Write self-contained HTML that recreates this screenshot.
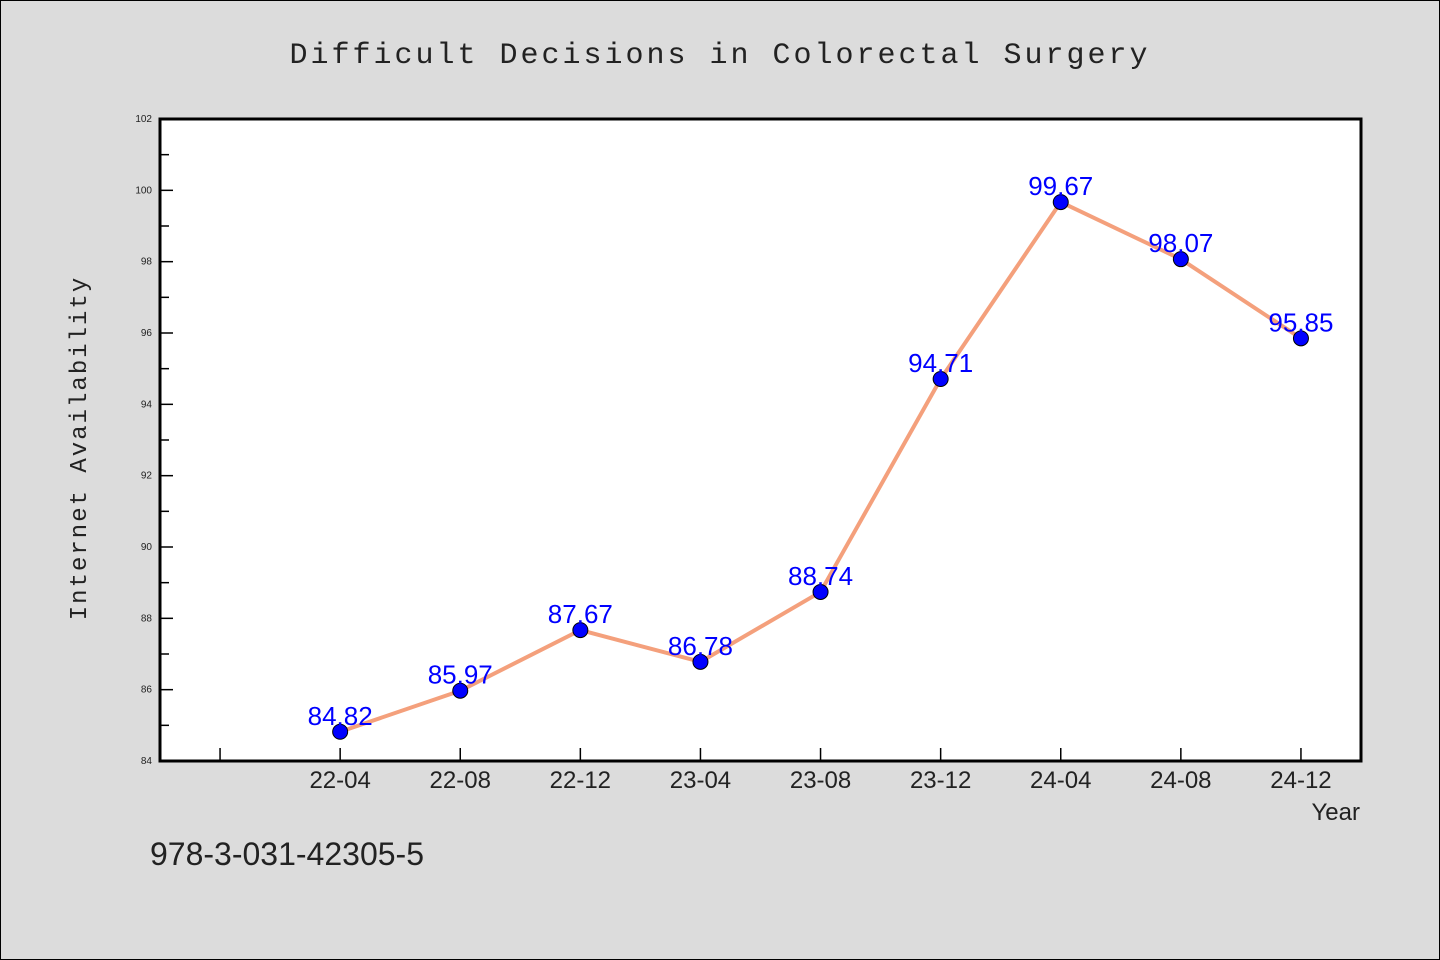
<!DOCTYPE html>
<html><head><meta charset="utf-8"><style>
body{margin:0;background:#dcdcdc;}
svg{display:block;font-family:"Liberation Sans","WenQuanYi Zen Hei",sans-serif;}
</style></head><body>
<svg id="chart" width="1440" height="960" viewBox="0 0 1440 960">
<rect x="0.5" y="0.5" width="1439" height="959" fill="#dcdcdc" stroke="#000"/>
<text x="720" y="63" text-anchor="middle" font-size="30" fill="#222" letter-spacing="3" font-family="WenQuanYi Zen Hei, Liberation Mono, monospace">Difficult Decisions in Colorectal Surgery</text>
<rect x="160" y="119" width="1201" height="642" fill="#fff"/>
<g id="yaxis"></g><g id="xaxis"></g><g id="series"></g>
<rect x="160" y="119" width="1201" height="642" fill="none" stroke="#000" stroke-width="3"/>
<text transform="translate(86,448) rotate(-90)" text-anchor="middle" font-size="24" fill="#222" letter-spacing="2" font-family="WenQuanYi Zen Hei, Liberation Mono, monospace">Internet Availability</text>
<text x="1360" y="820" text-anchor="end" font-size="24" fill="#222" font-family="WenQuanYi Zen Hei, Liberation Sans, sans-serif">Year</text>
<text x="150" y="865" font-size="32" fill="#222" font-family="WenQuanYi Zen Hei, Liberation Sans, sans-serif">978-3-031-42305-5</text>
</svg>
<script>
const categories=["22-04","22-08","22-12","23-04","23-08","23-12","24-04","24-08","24-12"];
const values=[84.82,85.97,87.67,86.78,88.74,94.71,99.67,98.07,95.85];
const valueLabels=["84.82","85.97","87.67","86.78","88.74","94.71","99.67","98.07","95.85"];
const yTicks=[84,86,88,90,92,94,96,98,100,102];
const NS="http://www.w3.org/2000/svg";
const L=160,R=1361,T=119,B=761,yMin=84,yMax=102,xMin=-1.5,xMax=8.5;
function ys(v){return B-(v-yMin)/(yMax-yMin)*(B-T);}
function xs(i){return L+(i-xMin)/(xMax-xMin)*(R-L);}
function mk(tag,attrs,parent){const e=document.createElementNS(NS,tag);for(const k in attrs)e.setAttribute(k,attrs[k]);parent.appendChild(e);return e;}
const ya=document.getElementById('yaxis'),xa=document.getElementById('xaxis'),sg=document.getElementById('series');
yTicks.forEach((v,i)=>{
 const t=mk('line',{x1:L,x2:L+13,y1:ys(v),y2:ys(v),stroke:'#000','stroke-width':1.5},ya);
 
 
 const lb=mk('text',{x:L-8,y:ys(v)+3,'text-anchor':'end','font-size':10,fill:'#222'},ya);
 lb.textContent=v;
 
 
 if(i<yTicks.length-1){
  const m=mk('line',{x1:L,x2:L+9,y1:ys(v+1),y2:ys(v+1),stroke:'#000','stroke-width':1.5},ya);
  
  
 }
});
for(let i=-1;i<categories.length;i++){
 const t=mk('line',{x1:xs(i),x2:xs(i),y1:B,y2:B-13,stroke:'#000','stroke-width':1.5},xa);
 
 
 if(i>=0){
  const lb=mk('text',{x:xs(i),y:B+27,'text-anchor':'middle','font-size':24,fill:'#222','font-family':'WenQuanYi Zen Hei, Liberation Sans, sans-serif'},xa);
  lb.textContent=categories[i];
  
  
 }
}
const pts=values.map((v,i)=>xs(i)+','+ys(v)).join(' ');
const pl=mk('polyline',{points:pts,fill:'none',stroke:'#f4a07c','stroke-width':4,'stroke-linejoin':'round'},sg);


values.forEach((v,i)=>{
 const c=mk('circle',{cx:xs(i),cy:ys(v),r:7.5,fill:'#0000ff',stroke:'#000','stroke-width':1},sg);
 
 
 const lb=mk('text',{x:xs(i),y:ys(v)-7,'text-anchor':'middle','font-size':26,fill:'#0000ff'},sg);
 lb.textContent=valueLabels[i];
 
 
});
</script>
</body></html>
